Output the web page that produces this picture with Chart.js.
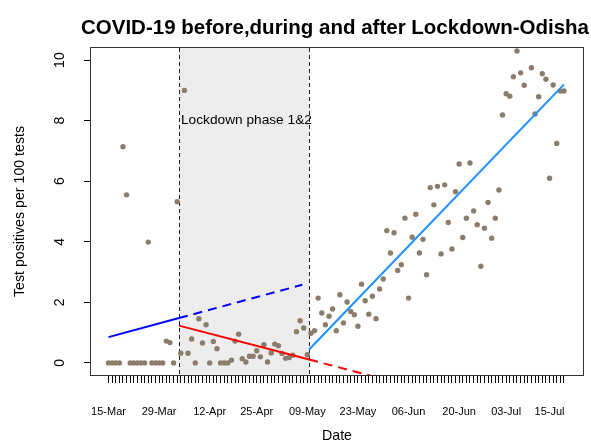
<!DOCTYPE html>
<html>
<head>
<meta charset="utf-8">
<script src="https://cdn.jsdelivr.net/npm/chart.js@4.4.1/dist/chart.umd.min.js"></script>
<style>
  html, body { margin: 0; padding: 0; background: #fff; }
  canvas { display: block; }
</style>
</head>
<body>
<canvas id="chart" width="591" height="443"></canvas>
<script>
// --- Data: test positives per 100 tests, one value per day (index 0 = 15-Mar) ---
const positivity = [
  0, 0, 0, 0, 7.14, 5.55, 0, 0, 0, 0,
  0, 3.99, 0, 0, 0, 0, 0.72, 0.67, 0, 5.32,
  0.32, 9.0, 0.32, 0.79, 0, 1.46, 0.66, 1.26, 0, 0.71,
  0.47, 0, 0, 0, 0.09, 0.72, 0.95, 0.14, 0.03, 0.22,
  0.22, 0.4, 0.2, 0.6, 0.03, 0.33, 0.62, 0.57, 0.31, 0.15,
  0.18, 0.25, 1.03, 1.39, 1.15, 0.27, 0.98, 1.06, 2.14, 1.65,
  1.26, 1.54, 1.78, 1.06, 2.25, 1.32, 2.01, 1.7, 1.59, 1.21,
  2.6, 2.05, 1.61, 2.2, 1.46, 2.44, 2.77, 4.37, 3.63, 4.3,
  3.05, 3.24, 4.78, 2.14, 4.15, 4.91, 3.63, 4.08, 2.91, 5.79,
  5.22, 5.83, 3.6, 5.88, 4.64, 3.76, 5.65, 6.57, 4.14, 4.78,
  6.6, 5.02, 4.56, 3.19, 4.45, 5.3, 4.12, 4.78, 5.71, 8.19,
  8.89, 8.81, 9.45, 10.3, 9.58, 9.17, null, 9.75, 8.22, 8.79,
  9.55, 9.37, 6.1, 9.18, 7.25, 8.98, 8.98
];

const dateTicks = [0, 14, 28, 41, 55, 69, 83, 97, 110, 122];
const dateLabels = ['15-Mar', '29-Mar', '12-Apr', '25-Apr', '09-May', '23-May', '06-Jun', '20-Jun', '03-Jul', '15-Jul'];
const yTicks = [0, 2, 4, 6, 8, 10];

const lockdown = [19.5, 55.5];          // start / end (day index)
const lockdownLabel = 'Lockdown phase 1&2';

// fitted trend segments, [day, value]
const preTrend = [[0, 0.85], [19.5, 1.48]];
const preTrendExtended = [[19.5, 1.48], [53.6, 2.58]];
const duringTrend = [[19.5, 1.23], [55.5, 0.11]];
const duringTrendExtended = [[55.5, 0.11], [72.5, -0.42]];
const postTrend = [[55.5, 0.44], [126, 9.2]];

const FONT = '"Liberation Sans", Arial, sans-serif';

const points = positivity
  .map((v, i) => ({ x: i, y: v }))
  .filter(p => p.y !== null);

function lineDs(pts, color, dash) {
  return {
    data: pts.map(([x, y]) => ({ x, y })),
    showLine: true,
    borderColor: color,
    borderWidth: 2,
    borderDash: dash,
    pointRadius: 0,
    fill: false
  };
}

// --- grey lockdown band, dashed bounds, labels, box, title ---
const decor = {
  id: 'decor',
  beforeDatasetsDraw(chart) {
    const { ctx, chartArea: a, scales: { x, y } } = chart;
    const x0 = x.getPixelForValue(lockdown[0]);
    const x1 = x.getPixelForValue(lockdown[1]);
    ctx.save();
    ctx.fillStyle = '#EDEDED';
    ctx.fillRect(x0, a.top, x1 - x0, a.bottom - a.top);
    ctx.strokeStyle = '#222';
    ctx.lineWidth = 1;
    ctx.setLineDash([4, 3]);
    [x0, x1].forEach(px => {
      const p = Math.round(px) + 0.5;
      ctx.beginPath();
      ctx.moveTo(p, a.top);
      ctx.lineTo(p, a.bottom);
      ctx.stroke();
    });
    ctx.setLineDash([]);
    ctx.fillStyle = '#000';
    ctx.font = '13.7px ' + FONT;
    ctx.textAlign = 'left';
    ctx.textBaseline = 'middle';
    ctx.fillText(lockdownLabel, x0 + 2, y.getPixelForValue(8));
    ctx.restore();
  },
  afterDraw(chart) {
    const { ctx, chartArea: a, scales: { y } } = chart;
    ctx.save();
    // plot box
    ctx.strokeStyle = '#333';
    ctx.lineWidth = 1;
    ctx.strokeRect(a.left - 0.5, a.top - 0.5, a.right - a.left + 1, a.bottom - a.top + 1);
    // y tick labels, parallel to the axis
    ctx.fillStyle = '#000';
    ctx.font = '14px ' + FONT;
    ctx.textAlign = 'center';
    ctx.textBaseline = 'middle';
    yTicks.forEach(v => {
      ctx.save();
      ctx.translate(60, y.getPixelForValue(v));
      ctx.rotate(-Math.PI / 2);
      ctx.fillText(String(v), 0, 0);
      ctx.restore();
    });
    // main title
    ctx.font = 'bold 20.5px ' + FONT;
    ctx.textBaseline = 'alphabetic';
    ctx.fillText('COVID-19 before,during and after Lockdown-Odisha', 335, 34);
    ctx.restore();
  }
};

new Chart(document.getElementById('chart'), {
  type: 'scatter',
  data: {
    datasets: [
      lineDs(preTrend, '#0000FF', []),
      lineDs(preTrendExtended, '#0000FF', [9, 6]),
      lineDs(duringTrend, '#FF0000', []),
      lineDs(duringTrendExtended, '#FF0000', [9, 6]),
      lineDs(postTrend, '#1E90FF', []),
      {
        data: points,
        showLine: false,
        pointRadius: 2.7,
        pointBackgroundColor: '#8B7D6B',
        pointBorderWidth: 0
      }
    ]
  },
  options: {
    responsive: false,
    animation: false,
    layout: { padding: { top: 48, right: 8, left: 0, bottom: 0 } },
    plugins: {
      legend: { display: false },
      tooltip: { enabled: false },
      title: { display: false }
    },
    scales: {
      x: {
        type: 'linear',
        min: -4.84,
        max: 131.26,
        afterBuildTicks: s => { s.ticks = positivity.map((_, i) => ({ value: i })); },
        afterFit: s => { s.height = 68; },
        border: { display: false },
        grid: { drawOnChartArea: false, drawTicks: true, tickLength: 8, color: '#000', lineWidth: 1 },
        ticks: {
          autoSkip: false,
          maxRotation: 0,
          minRotation: 0,
          padding: 22,
          color: '#000',
          font: { family: FONT, size: 11 },
          callback: v => {
            const k = dateTicks.indexOf(v);
            return k >= 0 ? dateLabels[k] : '';
          }
        },
        title: {
          display: true,
          text: 'Date',
          color: '#000',
          font: { family: FONT, size: 14.2 },
          padding: { top: 0, bottom: -2 }
        }
      },
      y: {
        min: -0.4,
        max: 10.4,
        afterBuildTicks: s => { s.ticks = yTicks.map(v => ({ value: v })); },
        afterFit: s => { s.width = 91; },
        border: { display: false },
        grid: { drawOnChartArea: false, drawTicks: true, tickLength: 7, color: '#000', lineWidth: 1 },
        ticks: { display: false },
        title: {
          display: true,
          text: 'Test positives per 100 tests',
          color: '#000',
          font: { family: FONT, size: 14.2 },
          padding: { top: 11.6, bottom: 0 }
        }
      }
    }
  },
  plugins: [decor]
});
</script>
</body>
</html>
